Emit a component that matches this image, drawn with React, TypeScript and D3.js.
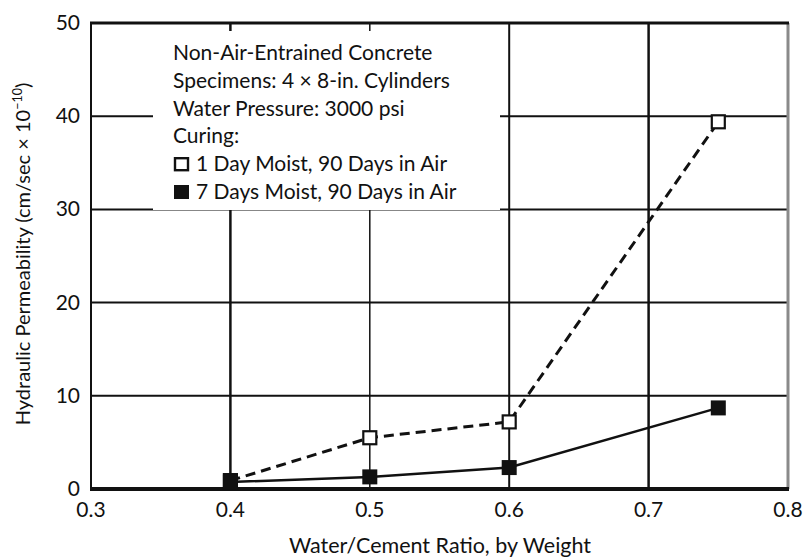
import React, { useEffect, useRef } from "react";
import * as d3 from "d3";

// w/c ratio on x, permeability (cm/sec x 10^-10) on y
const ratios = [0.4, 0.5, 0.6, 0.75];
const oneDayMoist = [0.9, 5.5, 7.2, 39.4];
const sevenDaysMoist = [0.75, 1.3, 2.3, 8.7];

const xTicks = [0.3, 0.4, 0.5, 0.6, 0.7, 0.8];
const yTicks = [0, 10, 20, 30, 40, 50];

const legendLines = [
  "Non-Air-Entrained Concrete",
  "Specimens: 4 \u00d7 8-in. Cylinders",
  "Water Pressure: 3000 psi",
  "Curing:",
];
const seriesNames = ["1 Day Moist, 90 Days in Air", "7 Days Moist, 90 Days in Air"];

const FONT = "Lato, 'Open Sans', sans-serif";

const App = () => {
  const ref = useRef<SVGSVGElement>(null);

  useEffect(() => {
    const svg = d3.select(ref.current);
    svg.selectAll("*").remove();

    const width = 804;
    const height = 560;
    const margin = { top: 23, right: 16, bottom: 71, left: 91 };

    const x = d3.scaleLinear().domain([0.3, 0.8]).range([margin.left, width - margin.right]);
    const y = d3.scaleLinear().domain([0, 50]).range([height - margin.bottom, margin.top]);

    svg.append("rect").attr("width", width).attr("height", height).attr("fill", "#fff");

    // grid
    const vWidths = [0, 2.5, 1.5, 2, 2.5, 0];
    xTicks.slice(1, -1).forEach((t, i) => {
      svg.append("line")
        .attr("x1", x(t)).attr("x2", x(t))
        .attr("y1", y(50)).attr("y2", y(0))
        .attr("stroke", "#111").attr("stroke-width", vWidths[i + 1]);
    });
    yTicks.slice(1, -1).forEach((t) => {
      svg.append("line")
        .attr("x1", x(0.3)).attr("x2", x(0.8))
        .attr("y1", y(t)).attr("y2", y(t))
        .attr("stroke", "#111").attr("stroke-width", 2);
    });

    // frame
    svg.append("line").attr("x1", x(0.8)).attr("x2", x(0.8)).attr("y1", y(50)).attr("y2", y(0))
      .attr("stroke", "#8a8a8a").attr("stroke-width", 3);
    svg.append("line").attr("x1", x(0.3) - 1).attr("x2", x(0.8) + 1).attr("y1", y(50)).attr("y2", y(50))
      .attr("stroke", "#111").attr("stroke-width", 3);
    svg.append("line").attr("x1", x(0.3)).attr("x2", x(0.3)).attr("y1", y(50)).attr("y2", y(0))
      .attr("stroke", "#111").attr("stroke-width", 2);

    // legend panel hides the grid behind it
    const lg = svg.append("g");
    lg.append("rect")
      .attr("x", 153).attr("y", 31).attr("width", 347).attr("height", 179)
      .attr("fill", "#fff");
    const lineH = 27.8;
    legendLines.forEach((s, i) => {
      lg.append("text")
        .attr("x", 173).attr("y", 60 + i * lineH)
        .attr("font-family", FONT).attr("font-size", 21).attr("fill", "#111")
        .text(s);
    });
    seriesNames.forEach((s, i) => {
      const yy = 60 + (4 + i) * lineH;
      lg.append("rect")
        .attr("x", i === 0 ? 175 : 174).attr("y", yy - (i === 0 ? 13 : 14))
        .attr("width", i === 0 ? 13 : 15).attr("height", i === 0 ? 12 : 14)
        .attr("fill", i === 0 ? "#fff" : "#111")
        .attr("stroke", "#111").attr("stroke-width", i === 0 ? 2.4 : 0);
      lg.append("text")
        .attr("x", 196).attr("y", yy)
        .attr("font-family", FONT).attr("font-size", 21).attr("fill", "#111")
        .text(s);
    });

    // bottom axis
    svg.append("line").attr("x1", x(0.3) - 1).attr("x2", x(0.8) + 1).attr("y1", y(0)).attr("y2", y(0))
      .attr("stroke", "#111").attr("stroke-width", 4);

    // series
    const line = d3.line<number>()
      .x((d, i) => x(ratios[i]))
      .y((d) => y(d));

    svg.append("path")
      .datum(oneDayMoist)
      .attr("fill", "none").attr("stroke", "#111")
      .attr("stroke-width", 3).attr("stroke-dasharray", "10,6")
      .attr("d", line);
    svg.append("path")
      .datum(sevenDaysMoist)
      .attr("fill", "none").attr("stroke", "#111")
      .attr("stroke-width", 2.5)
      .attr("d", line);

    const s = 13;
    svg.selectAll(".open").data(oneDayMoist).enter().append("rect")
      .attr("x", (d, i) => x(ratios[i]) - s / 2).attr("y", (d) => y(d) - s / 2)
      .attr("width", s).attr("height", s)
      .attr("fill", "#fff").attr("stroke", "#111").attr("stroke-width", 2.2);
    svg.selectAll(".filled").data(sevenDaysMoist).enter().append("rect")
      .attr("x", (d, i) => x(ratios[i]) - 7.5).attr("y", (d) => y(d) - 7.5)
      .attr("width", 15).attr("height", 15)
      .attr("fill", "#111");

    // tick labels
    xTicks.forEach((t) => {
      svg.append("text")
        .attr("x", x(t)).attr("y", 517)
        .attr("text-anchor", "middle")
        .attr("font-family", FONT).attr("font-size", 21).attr("fill", "#111")
        .text(d3.format(".1f")(t));
    });
    yTicks.forEach((t) => {
      svg.append("text")
        .attr("x", 80).attr("y", y(t) + 7)
        .attr("text-anchor", "end")
        .attr("font-family", FONT).attr("font-size", 21).attr("fill", "#111")
        .text(t);
    });

    // axis titles
    svg.append("text")
      .attr("x", 440).attr("y", 553)
      .attr("text-anchor", "middle")
      .attr("font-family", FONT).attr("font-size", 21.5).attr("fill", "#111")
      .text("Water/Cement Ratio, by Weight");

    const yt = svg.append("text")
      .attr("transform", "translate(30,254) rotate(-90)")
      .attr("text-anchor", "middle")
      .attr("font-family", FONT).attr("font-size", 20).attr("fill", "#111");
    yt.append("tspan").text("Hydraulic Permeability (cm/sec \u00d7 10");
    yt.append("tspan").attr("dy", -8).attr("font-size", 12.5).text("\u221210");
    yt.append("tspan").attr("dy", 8).text(")");
  }, []);

  return (
    <svg
      ref={ref}
      width={804}
      height={560}
      style={{ position: "absolute", left: 0, top: 0, display: "block" }}
    />
  );
};

export default App;
